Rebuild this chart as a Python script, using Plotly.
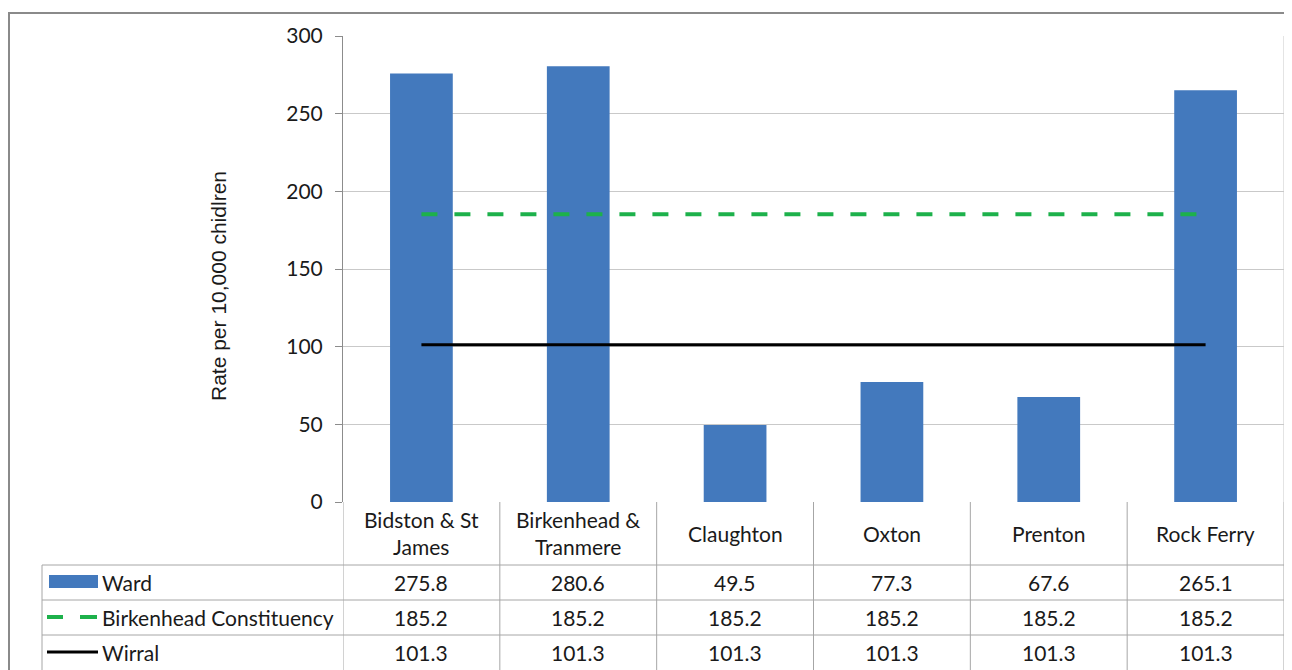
import plotly.graph_objects as go

categories = ["Bidston & St James", "Birkenhead & Tranmere", "Claughton", "Oxton", "Prenton", "Rock Ferry"]
header_labels = ["Bidston & St<br>James", "Birkenhead &<br>Tranmere", "Claughton", "Oxton", "Prenton", "Rock Ferry"]
ward = [275.8, 280.6, 49.5, 77.3, 67.6, 265.1]
constituency = [185.2, 185.2, 185.2, 185.2, 185.2, 185.2]
wirral = [101.3, 101.3, 101.3, 101.3, 101.3, 101.3]
series_names = ["Ward", "Birkenhead Constituency", "Wirral"]
y_ticks = [0, 50, 100, 150, 200, 250, 300]
y_title = "Rate per 10,000 chidlren"

# page body has an 8px margin: work in screen pixels and convert
OFF = 8
W, H = 1292, 670
SL, SR, ST, SB = 343, 1284, 36, 502          # plot area in screen pixels
L, T = SL - OFF, ST - OFF
R = W - (SR - OFF)
B = H - (SB - OFF)
PW, PH = SR - SL, SB - ST

def px(x):
    return (x - SL) / PW

def py(y):
    return (SB - y) / PH

BLUE = "#4379BD"
GREEN = "#1DB14B"
GRID = "#C9C9C9"
TABLE = "#A6A6A6"
FONT = "Lato"

fig = go.Figure()
xs = list(range(len(categories)))
fig.add_trace(go.Bar(x=xs, y=ward, marker=dict(color=BLUE, line=dict(width=0)), width=0.4, name=series_names[0]))
fig.add_trace(go.Scatter(x=xs, y=constituency, mode="lines", line=dict(color=GREEN, width=4, dash="16px,17px"), name=series_names[1]))
fig.add_trace(go.Scatter(x=xs, y=wirral, mode="lines", line=dict(color="black", width=3), name=series_names[2]))

shapes = []
annotations = []

# outer chart border
shapes.append(dict(type="rect", xref="paper", yref="paper", x0=px(9), x1=px(1330), y0=py(720), y1=py(13),
                   line=dict(color="#8A8A8A", width=2), layer="below"))
# plot area right border
shapes.append(dict(type="line", xref="paper", yref="paper", x0=1, x1=1, y0=0, y1=1, line=dict(color=GRID, width=1)))

# table lines
n = len(categories)
for k in range(n + 1):
    shapes.append(dict(type="line", xref="x", yref="paper", x0=k - 0.5, x1=k - 0.5, y0=py(502), y1=py(H + 20),
                       line=dict(color=TABLE, width=1)))
shapes.append(dict(type="line", xref="paper", yref="paper", x0=px(42), x1=px(42), y0=py(565), y1=py(H + 20),
                   line=dict(color=TABLE, width=1)))
for yy in [565, 600, 635]:
    shapes.append(dict(type="line", xref="paper", yref="paper", x0=px(42), x1=1, y0=py(yy), y1=py(yy),
                       line=dict(color=TABLE, width=1)))

# legend keys
shapes.append(dict(type="rect", xref="paper", yref="paper", x0=px(49), x1=px(98), y0=py(588), y1=py(575),
                   fillcolor=BLUE, line=dict(width=0)))
shapes.append(dict(type="line", xref="paper", yref="paper", x0=px(47), x1=px(63), y0=py(617), y1=py(617),
                   line=dict(color=GREEN, width=4)))
shapes.append(dict(type="line", xref="paper", yref="paper", x0=px(80), x1=px(97), y0=py(617), y1=py(617),
                   line=dict(color=GREEN, width=4)))
shapes.append(dict(type="line", xref="paper", yref="paper", x0=px(47), x1=px(98), y0=py(652), y1=py(652),
                   line=dict(color="black", width=3)))

tf = dict(family=FONT, size=21, color="#1a1a1a")
for i, lab in enumerate(header_labels):
    annotations.append(dict(x=i, y=py(533), xref="x", yref="paper", text=lab, showarrow=False,
                            font=tf, xanchor="center", yanchor="middle"))
rows_y = [582, 617, 652]
for name, vals, yy in zip(series_names, [ward, constituency, wirral], rows_y):
    annotations.append(dict(x=px(100), y=py(yy), xref="paper", yref="paper", text=name, showarrow=False,
                            font=tf, xanchor="left", yanchor="middle"))
    for i, v in enumerate(vals):
        annotations.append(dict(x=i, y=py(yy), xref="x", yref="paper", text=f"{v:.1f}", showarrow=False,
                                font=tf, xanchor="center", yanchor="middle"))

annotations.append(dict(x=px(218), y=py(286), xref="paper", yref="paper", text=y_title, showarrow=False,
                        textangle=-90, font=dict(family="Liberation Sans", size=21, color="#1a1a1a"),
                        xanchor="center", yanchor="middle"))

fig.update_layout(
    width=W, height=H,
    margin=dict(l=L, r=R, t=T, b=B),
    paper_bgcolor="white", plot_bgcolor="white",
    showlegend=False,
    shapes=shapes, annotations=annotations,
    xaxis=dict(range=[-0.5, n - 0.5], showticklabels=False, showgrid=False, zeroline=False,
               showline=False, ticks="", fixedrange=True),
    yaxis=dict(range=[0, 300], tickvals=y_ticks, showgrid=True, gridcolor=GRID, gridwidth=1,
               zeroline=False, showline=True, linecolor="#8C8C8C", linewidth=1,
               ticks="outside", ticklen=7, tickcolor="#8C8C8C", ticklabelstandoff=8,
               tickfont=dict(family=FONT, size=21, color="#1a1a1a")),
)
fig.write_html("out.html")
